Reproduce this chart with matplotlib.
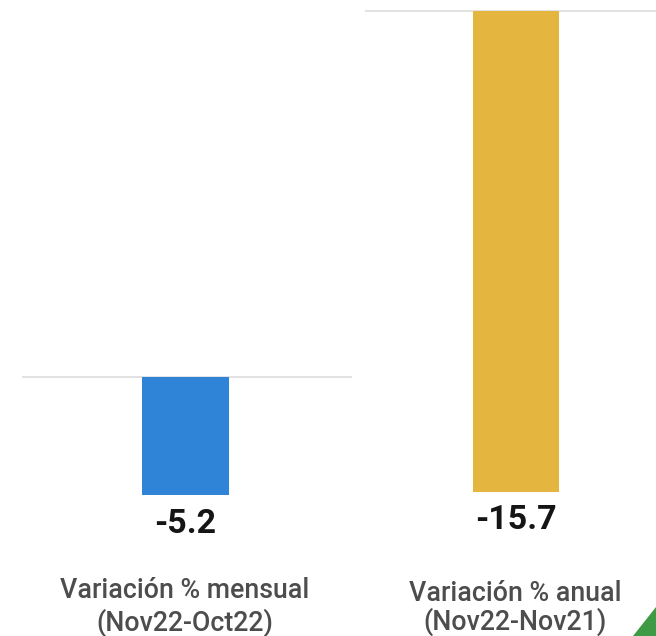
import matplotlib.pyplot as plt
from matplotlib.patches import Polygon

# data
labels = ["Variación % mensual\n(Nov22-Oct22)", "Variación % anual\n(Nov22-Nov21)"]
values = [-5.2, -15.7]
colors = ["#2f84d8", "#e4b63f"]

plt.rcParams['font.family'] = ['Roboto', 'DejaVu Sans']

W, H = 656, 636
fig = plt.figure(figsize=(W / 100, H / 100), dpi=100)

# pixel layout of each small panel
panels = [
    dict(x0=22, x1=352, base=377, end=495, cx=185.5, bw=87, off=21.0),
    dict(x0=365, x1=656, base=11, end=492, cx=516, bw=86, off=20.2),
]

for i, p in enumerate(panels):
    h = H - p["base"] + 2
    ax = fig.add_axes([p["x0"] / W, 0, (p["x1"] - p["x0"]) / W, h / H])
    ax.bar([0], [values[i]], width=1, color=colors[i], zorder=2)
    ax.axhline(0, color="#dddddd", lw=1.2, zorder=1)
    scale = (p["end"] - p["base"]) / abs(values[i])  # px per unit
    ax.set_ylim(-(H - p["base"]) / scale, 2 / scale)
    ax.set_xlim(-(p["cx"] - p["x0"]) / p["bw"], (p["x1"] - p["cx"]) / p["bw"])
    ax.axis("off")
    ax.annotate(f"{values[i]:.1f}", xy=(0, values[i]), xytext=(0, -p["off"]),
                textcoords="offset points", ha="center", va="center",
                fontsize=24.5, fontweight="bold", color="#151515")

fig.text(185 / W, 1 - 607 / H, labels[0], ha="center", va="center",
         fontsize=19.3, fontweight="medium", color="#4d4d4d", linespacing=1.2)
fig.text(515 / W, 1 - 608 / H, labels[1], ha="center", va="center",
         fontsize=19.3, fontweight="medium", color="#4d4d4d", linespacing=1.05)

# green corner decoration
tri = Polygon([[633 / W, 0], [1, 0], [1, 1 - 607 / H]], closed=True,
              transform=fig.transFigure, color="#3f9a46")
fig.patches.append(tri)

fig.savefig("out.png", dpi=100)
